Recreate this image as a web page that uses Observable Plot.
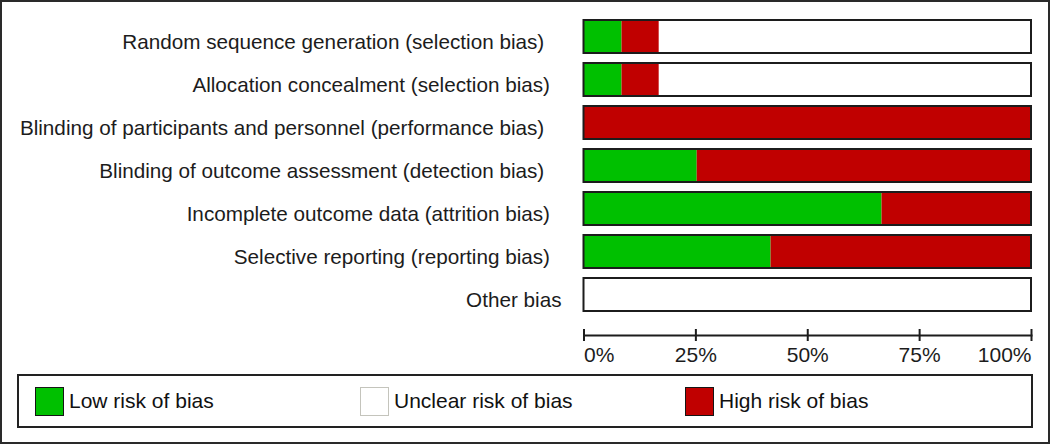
<!DOCTYPE html>
<html>
<head>
<meta charset="utf-8">
<script src="https://cdn.jsdelivr.net/npm/d3@7"></script>
<script src="https://cdn.jsdelivr.net/npm/@observablehq/plot@0.6"></script>
<style>
  html, body { margin: 0; padding: 0; background: #fff; }
  body { width: 1050px; height: 445px; position: relative; overflow: hidden;
         font-family: "Liberation Sans", Arial, sans-serif; }
  #outer { position: absolute; left: 0; top: 0; width: 1046px; height: 440px;
           border: 2px solid #2a2a2a; }
  #chart { position: absolute; left: 0; top: 0; }
  #chart svg text { white-space: pre; }
  #legend { position: absolute; left: 17px; top: 374px; width: 1012px; height: 50px;
            border: 2px solid #222; display: flex; align-items: center; box-sizing: content-box; }
  .item { width: 325px; display: flex; align-items: center; font-size: 21px; color: #111; }
  .item:first-child { margin-left: 16px; }
  .sw { width: 27px; height: 27px; border: 1.5px solid #151515; margin-right: 5px; }
</style>
</head>
<body>
<div id="outer"></div>
<div id="chart"></div>
<div id="legend"></div>
<script>
// ---- data ----
const categories = [
  "Random sequence generation (selection bias)   ",
  "Allocation concealment (selection bias)  ",
  "Blinding of participants and personnel (performance bias)   ",
  "Blinding of outcome assessment (detection bias)   ",
  "Incomplete outcome data (attrition bias)  ",
  "Selective reporting (reporting bias)  ",
  "Other bias"
];
const risks = ["Low risk of bias", "Unclear risk of bias", "High risk of bias"];
const riskColors = ["#00c000", "#ffffff", "#c00000"];
const stackOrder = ["Low risk of bias", "High risk of bias", "Unclear risk of bias"];
const low     = [8.5, 8.5, 0, 25.3, 66.6, 41.8, 0];
const unclear = [83.2, 83.2, 0, 0, 0, 0, 100];
const high    = [8.3, 8.3, 100, 74.7, 33.4, 58.2, 0];
const xTicks = [0, 25, 50, 75, 100];
const tickLabels = ["0%", "25%", "50%", "75%", "100%"];

// ---- table ----
const series = [low, unclear, high];
const rows = [];
categories.forEach((c, i) => {
  risks.forEach((r, k) => rows.push({cat: c, risk: r, value: series[k][i]}));
});
const totals = categories.map((c, i) => ({cat: c, total: low[i] + unclear[i] + high[i]}));
const tickData = xTicks.map((t, i) => ({t, label: tickLabels[i]}));

const ink = "#1c1c1c";
const chart = Plot.plot({
  width: 1050,
  height: 370,
  marginLeft: 583.5,
  marginRight: 19,
  marginTop: 0,
  marginBottom: 35,
  style: {fontFamily: '"Liberation Sans", Arial, sans-serif', background: "transparent", color: ink},
  x: {domain: [0, 100], label: null},
  y: {domain: categories, range: [7.9, 322.4], padding: 0.24, label: null},
  color: {domain: risks, range: riskColors},
  marks: [
    Plot.barX(rows, Plot.stackX({x: "value", y: "cat", fill: "risk", order: stackOrder})),
    Plot.barX(totals, {x1: () => 0, x2: "total", y: "cat", fill: "none", stroke: ink, strokeWidth: 2}),
    Plot.axisY({tickSize: 0, tickPadding: 22.5, fontSize: 20.7, dy: 5, fill: ink, label: null}),
    Plot.frame({anchor: "bottom", stroke: ink, strokeWidth: 2}),
    Plot.axisX({ticks: xTicks, tickSize: 12, dy: -6, tickFormat: () => "", stroke: ink, strokeWidth: 2, label: null}),
    Plot.text(tickData.slice(0, 1), {x: "t", text: "label", frameAnchor: "bottom", lineAnchor: "top", textAnchor: "start", dy: 11.5, fontSize: 21, fill: ink}),
    Plot.text(tickData.slice(1, -1), {x: "t", text: "label", frameAnchor: "bottom", lineAnchor: "top", textAnchor: "middle", dy: 11.5, fontSize: 21, fill: ink}),
    Plot.text(tickData.slice(-1), {x: "t", text: "label", frameAnchor: "bottom", lineAnchor: "top", textAnchor: "end", dy: 11.5, fontSize: 21, fill: ink})
  ]
});
document.getElementById("chart").appendChild(chart);

// ---- legend ----
const legend = document.getElementById("legend");
risks.forEach((r, i) => {
  const item = document.createElement("div");
  item.className = "item";
  const sw = document.createElement("div");
  sw.className = "sw";
  sw.style.background = riskColors[i];
  if (riskColors[i] === "#ffffff") sw.style.borderColor = "#c4c4bc";
  const tx = document.createElement("span");
  tx.textContent = r;
  item.appendChild(sw);
  item.appendChild(tx);
  legend.appendChild(item);
});
</script>
</body>
</html>
